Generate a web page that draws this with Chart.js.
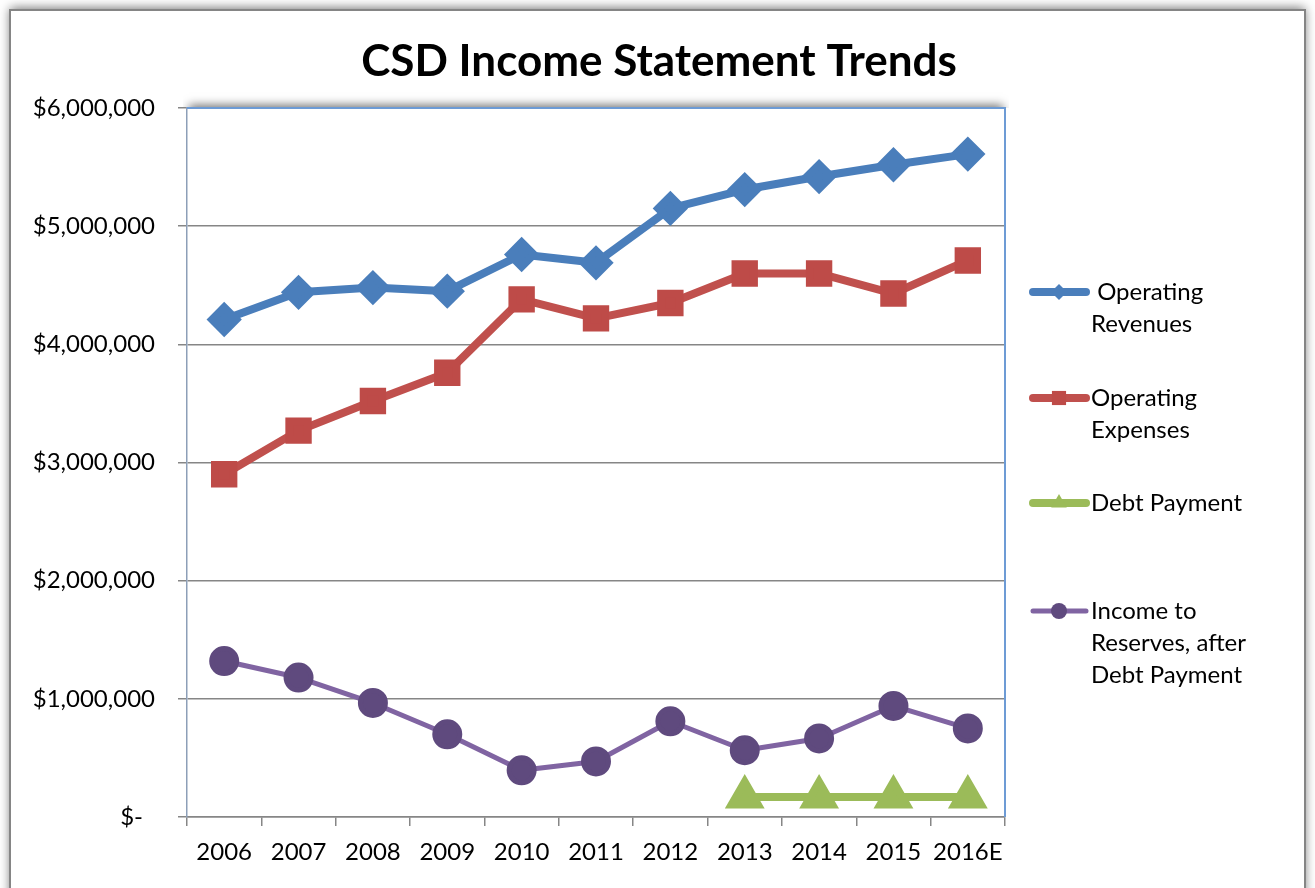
<!DOCTYPE html>
<html>
<head>
<meta charset="utf-8">
<title>CSD Income Statement Trends</title>
<script src="https://cdn.jsdelivr.net/npm/chart.js@4.4.1/dist/chart.umd.min.js"></script>
<style>
  html, body { margin: 0; padding: 0; background: #ffffff; }
  canvas { display: block; }
</style>
</head>
<body>
<canvas id="chart" width="1315" height="888"></canvas>
<script>
// Fiscal years on the category axis
const years = ['2006', '2007', '2008', '2009', '2010', '2011', '2012', '2013', '2014', '2015', '2016E'];

// Dollar amounts per year
const operatingRevenues = [4210000, 4440000, 4480000, 4450000, 4760000, 4690000, 5150000, 5310000, 5420000, 5520000, 5610000];
const operatingExpenses = [2900000, 3270000, 3520000, 3760000, 4380000, 4220000, 4350000, 4600000, 4600000, 4430000, 4710000];
const debtPayment       = [null, null, null, null, null, null, null, 170000, 170000, 170000, 170000];
const incomeToReserves  = [1320000, 1180000, 965000, 700000, 395000, 470000, 810000, 565000, 665000, 940000, 750000];

// Legend captions, one entry per wrapped line
const legendLines = [
  [' Operating', 'Revenues'],
  ['Operating', 'Expenses'],
  ['Debt Payment'],
  ['Income to', 'Reserves, after', 'Debt Payment']
];

const chartTitle = 'CSD Income Statement Trends';

// Value axis ticks
const yMin = 0, yMax = 6000000, yStep = 1000000;

const FONT = 'Lato, "Open Sans", "Liberation Sans", sans-serif';

// Accounting-style dollar labels; zero shows as a dash
function money(v) {
  if (v === 0) return '$-\u2002';
  return '$' + v.toLocaleString('en-US');
}

// White frame with soft shadow around the whole chart, a shadowed plot panel, and the title
const framePlugin = {
  id: 'frame',
  beforeDraw(chart) {
    const ctx = chart.ctx;
    const a = chart.chartArea;
    ctx.save();
    ctx.fillStyle = '#ffffff';
    ctx.fillRect(0, 0, chart.width, chart.height);
    // outer frame
    ctx.shadowColor = 'rgba(0,0,0,0.55)';
    ctx.shadowBlur = 10;
    ctx.shadowOffsetX = 0;
    ctx.shadowOffsetY = -2;
    ctx.fillStyle = '#ffffff';
    ctx.fillRect(10, 10, 1295, 900);
    ctx.shadowColor = 'transparent';
    ctx.strokeStyle = '#858585';
    ctx.lineWidth = 2;
    ctx.strokeRect(10, 10, 1295, 900);
    ctx.restore();

    // plot panel shadow, visible above the top edge only
    ctx.save();
    ctx.beginPath();
    ctx.rect(a.left - 4, a.top - 20, a.right - a.left + 8, 20);
    ctx.clip();
    ctx.shadowColor = 'rgba(0,0,0,0.55)';
    ctx.shadowBlur = 9;
    ctx.shadowOffsetY = -3;
    ctx.fillStyle = '#ffffff';
    ctx.fillRect(a.left + 2, a.top, a.right - a.left - 4, a.bottom - a.top);
    ctx.restore();

    // title
    ctx.save();
    ctx.fillStyle = '#000000';
    ctx.font = 'bold 44px ' + FONT;
    ctx.textAlign = 'center';
    ctx.textBaseline = 'middle';
    ctx.fillText(chartTitle, 659, 62);
    ctx.restore();
  },
  beforeDatasetsDraw(chart) {
    const ctx = chart.ctx;
    const a = chart.chartArea;
    ctx.save();
    ctx.strokeStyle = '#6d9bd5';
    ctx.lineWidth = 2;
    ctx.beginPath();
    ctx.moveTo(a.left, a.top);
    ctx.lineTo(a.right, a.top);
    ctx.lineTo(a.right, a.bottom);
    ctx.stroke();
    ctx.restore();
  }
};

// Legend on the right with wrapped captions
const sideLegendPlugin = {
  id: 'sideLegend',
  afterDraw(chart) {
    const ctx = chart.ctx;
    const rows = [292, 398, 503, 611];
    const x0 = 1033, x1 = 1086, xm = 1059, xt = 1091, lh = 32;
    ctx.save();
    chart.data.datasets.forEach((ds, i) => {
      const y = rows[i];
      ctx.strokeStyle = ds.borderColor;
      ctx.lineWidth = ds.borderWidth;
      ctx.lineCap = 'round';
      ctx.beginPath();
      ctx.moveTo(x0, y);
      ctx.lineTo(x1, y);
      ctx.stroke();
      ctx.fillStyle = ds.pointBackgroundColor;
      ctx.strokeStyle = ds.pointBackgroundColor;
      ctx.lineWidth = 1;
      Chart.helpers.drawPoint(ctx, { pointStyle: ds.pointStyle, radius: ds.legendRadius, rotation: 0 }, xm, y);
      ctx.fillStyle = '#000000';
      ctx.font = '24px ' + FONT;
      ctx.textAlign = 'left';
      ctx.textBaseline = 'middle';
      legendLines[i].forEach((t, k) => ctx.fillText(t, xt, y + k * lh));
    });
    ctx.restore();
  }
};

new Chart(document.getElementById('chart'), {
  type: 'line',
  data: {
    labels: years,
    datasets: [
      {
        label: 'Operating Revenues',
        data: operatingRevenues,
        borderColor: '#4a7ebb',
        borderWidth: 8,
        pointStyle: 'rectRot',
        pointRadius: 12,
        pointBackgroundColor: '#4a7ebb',
        pointBorderColor: '#4a7ebb',
        legendRadius: 8
      },
      {
        label: 'Operating Expenses',
        data: operatingExpenses,
        borderColor: '#c0504d',
        borderWidth: 8,
        pointStyle: 'rect',
        pointRadius: 13,
        pointBackgroundColor: '#be4b48',
        pointBorderColor: '#be4b48',
        legendRadius: 10
      },
      {
        label: 'Debt Payment',
        data: debtPayment,
        borderColor: '#9bbb59',
        borderWidth: 8,
        pointStyle: 'triangle',
        pointRadius: 15,
        pointBackgroundColor: '#9bbb59',
        pointBorderColor: '#9bbb59',
        legendRadius: 9
      },
      {
        label: 'Income to Reserves, after Debt Payment',
        data: incomeToReserves,
        borderColor: '#8064a2',
        borderWidth: 5,
        pointStyle: 'circle',
        pointRadius: 12.5,
        pointBackgroundColor: '#5f4a7e',
        pointBorderColor: '#5f4a7e',
        legendRadius: 8
      }
    ]
  },
  options: {
    responsive: false,
    animation: false,
    spanGaps: false,
    layout: { padding: { left: 0, right: 310, top: 108, bottom: 0 } },
    elements: {
      line: { tension: 0, borderCapStyle: 'round', borderJoinStyle: 'round' },
      point: { borderWidth: 1, hoverRadius: 13 }
    },
    plugins: {
      legend: { display: false },
      tooltip: { enabled: false },
      title: { display: false }
    },
    scales: {
      x: {
        type: 'category',
        offset: true,
        afterFit(scale) { scale.height = 71; },
        grid: {
          offset: true,
          drawOnChartArea: false,
          drawTicks: true,
          tickLength: 9,
          color: '#868686',
          lineWidth: 1.5
        },
        border: { display: true, color: '#868686', width: 1.5 },
        ticks: {
          color: '#000000',
          padding: 12,
          maxRotation: 0,
          autoSkip: false,
          font: { family: FONT, size: 24 }
        }
      },
      y: {
        min: yMin,
        max: yMax,
        afterFit(scale) { scale.width = 187; },
        grid: {
          color: '#868686',
          lineWidth: 1.5,
          drawTicks: true,
          tickLength: 9
        },
        border: { display: true, color: '#8d9fb8', width: 1.5 },
        ticks: {
          stepSize: yStep,
          color: '#000000',
          padding: 23,
          font: { family: FONT, size: 24 },
          callback: (v) => money(v)
        }
      }
    }
  },
  plugins: [framePlugin, sideLegendPlugin]
});
</script>
</body>
</html>
